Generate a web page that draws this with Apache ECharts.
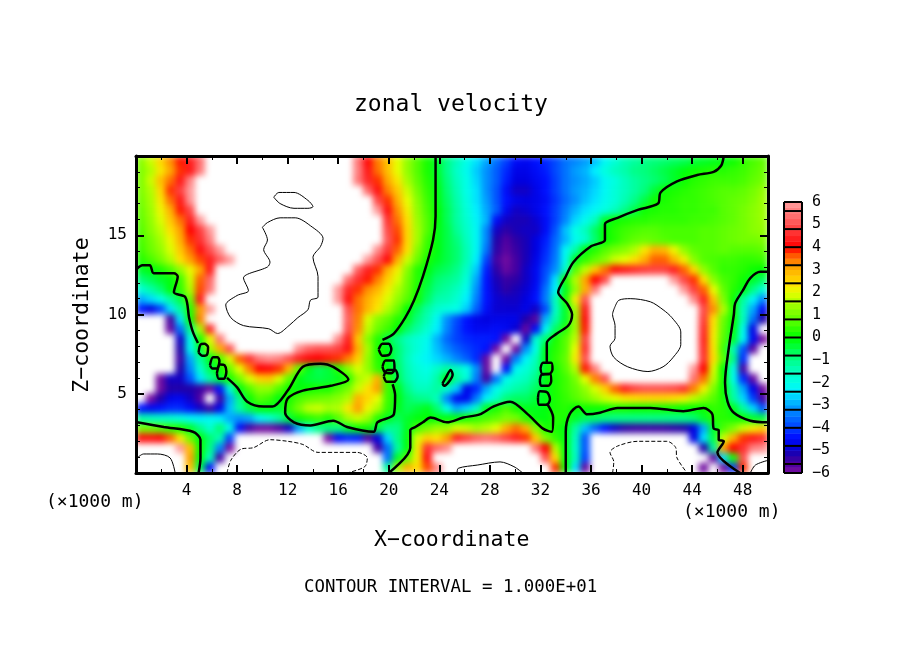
<!DOCTYPE html>
<html>
<head>
<meta charset="utf-8">
<title>zonal velocity</title>
<style>
  html, body { margin: 0; background: #fff; }
  #main { width: 904px; height: 654px; }
</style>
<script src="https://cdn.jsdelivr.net/npm/echarts@6/dist/echarts.min.js"></script>
</head>
<body>
<div id="main"></div>
<script>
// values, top row first, 64 columns x 32 rows; +-7 = off the colour scale (white)
var zonalRows = [
[1.2,1.8,2.5,3.3,3.9,4.4,5.4,7, 7,7,7,7,7,7,7,7, 7,7,7,7,7,7,5.5,4.1, 3.4,2.8,2,1.3,.7,.2,-.3,-1, -1.5,-2,-2.5,-3,-3.5,-4,-4.5,-4.6, -4.4,-4.2,-3.9,-3.5,-3.3,-3.1,-2.8,-2.2, -1.8,-1.4,-1.2,-1,-.9,-.8,-.7,-.6, -.4,-.3,-.2,-.1,.1,.4,.6,.8],
[1.1,1.6,2.3,3.1,3.8,4.3,5.5,7, 7,7,7,7,7,7,7,7, 7,7,7,7,7,7,5.6,4.3, 3.5,2.8,2,1.3,.7,.2,-.3,-1, -1.6,-2.1,-2.7,-3.2,-3.7,-4.2,-4.7,-4.7, -4.5,-4.3,-3.9,-3.5,-3.1,-2.9,-2.4,-1.9, -1.5,-1.3,-1,-.9,-.7,-.5,-.3,-.1, .1,.2,.3,.3,.4,.5,.7,.9],
[1.1,1.8,2.8,3.5,4.3,5.7,7,7, 7,7,7,7,7,7,7,7, 7,7,7,7,7,7,5.5,4.5, 3.8,3.1,2.3,1.5,.8,.3,-.2,-.9, -1.5,-2,-2.6,-3.2,-3.7,-4.3,-4.8,-4.8, -4.6,-4.4,-4,-3.5,-3.2,-3,-2.7,-2.2, -1.9,-1.5,-1.2,-1,-.8,-.6,-.3,.1, .3,.4,.5,.5,.5,.6,.8,1],
[1.1,1.6,2.5,3.8,4.8,6,7,7, 7,7,7,7,7,7,7,7, 7,7,7,7,7,7,7,5.3, 4.2,3.4,2.7,1.8,1,.4,-.1,-.8, -1.4,-2,-2.5,-3.2,-3.8,-4.5,-5,-5, -4.7,-4.4,-4,-3.5,-3.1,-2.9,-2.6,-2.2, -1.8,-1.5,-1.2,-.9,-.4,.1,.2,.3, .4,.5,.6,.7,.7,.8,1,1.3],
[1,1.5,2.3,3.5,4.3,5.9,7,7, 7,7,7,7,7,7,7,7, 7,7,7,7,7,7,7,7, 4.9,3.8,3,2,1.2,.5,-.1,-.7, -1.3,-1.9,-2.5,-3.1,-3.8,-4.4,-4.7,-4.8, -4.7,-4.5,-4.1,-3.6,-3.2,-2.8,-2.5,-2.1, -1.8,-1.4,-1,-.5,.1,.2,.3,.4, .4,.5,.6,.7,.8,.9,1.1,1.4],
[.9,1.4,2.1,3,3.9,4.9,7,7, 7,7,7,7,7,7,7,7, 7,7,7,7,7,7,7,7, 6,4.2,3.3,2.2,1.3,.6,0,-.6, -1.2,-1.8,-2.4,-3,-3.7,-4.6,-5,-4.9, -4.7,-4.4,-4,-3.4,-2.9,-2.5,-2.2,-1.9, -1.5,-1,-.5,.1,.2,.3,.3,.4, .4,.5,.5,.7,.8,1,1.2,1.4],
[.8,1.3,1.9,2.7,3.5,4.4,6,7, 7,7,7,7,7,7,7,7, 7,7,7,7,7,7,7,7, 7,4.6,3.5,2.4,1.4,.7,0,-.6, -1.2,-1.7,-2.3,-2.9,-4.5,-5,-5.1,-5.1, -4.9,-4.5,-4,-3.3,-2.6,-2.1,-1.5,-.3, .1,.2,.3,.3,.4,.4,.4,.4, .5,.5,.6,.7,.8,1,1.2,1.4],
[.7,1.2,1.7,2.4,3.2,4,4.8,6, 7,7,7,7,7,7,7,7, 7,7,7,7,7,7,7,7, 7,4.9,3.7,2.5,1.5,.7,-.1,-.5, -1.1,-1.6,-2.2,-3.3,-5,-5.3,-5.1,-5, -5,-4.5,-3.8,-2.8,-2,-1.5,-.7,0, .3,.5,.6,.7,.7,.6,.6,.6, .6,.7,.7,.8,.9,1,1.2,1.3],
[.6,1,1.5,2.1,3,3.8,4.6,5.6, 7,7,7,7,7,7,7,7, 7,7,7,7,7,7,7,7, 7,5.1,3.8,2.5,1.5,.5,-.1,-.5, -.9,-1.5,-2.2,-3.3,-5.2,-5.6,-5.3,-5.1, -4.8,-4.3,-3.6,-2.9,-2.1,-1.7,-.8,0, .3,.6,.8,.9,.8,.7,.6,.6, .6,.7,.7,.8,.9,1,1,1.1],
[.5,.9,1.3,1.9,2.7,3.5,4.2,5, 6,7,7,7,7,7,7,7, 7,7,7,7,7,7,7,7, 5.8,4.7,3.6,2.4,1.2,.4,-.1,-.5, -.8,-1.4,-2.2,-3.5,-5.3,-5.7,-5.4,-5.1, -4.8,-4.2,-3.5,-2.2,-1.3,-.1,.3,.7, 1,1.2,1.6,2.3,3,2.9,2.1,1.3, .8,.7,.7,.8,.7,.7,.7,.8],
[.3,.6,1,1.6,2.4,3.2,3.7,4.4, 5.2,6,7,7,7,7,7,7, 7,7,7,7,7,7,7,6, 5,4.1,3,1.8,.9,.2,-.2,-.5, -.8,-1.4,-2.4,-4,-5.5,-5.9,-5.5,-5.1, -4.7,-4.1,-3.4,-2.1,-.2,.4,.8,1.2, 1.8,2,2.4,3,3.6,3.6,3,2.2, 1.2,.7,.6,.5,.5,.4,.4,.5],
[-.3,-.1,.2,.6,1.3,2.1,3.1,4.3, 7,7,7,7,7,7,7,7, 7,7,7,7,7,7,5.2,4.4, 3.8,3,2.2,1.2,.3,-.1,-.5,-.7, -1,-1.6,-2.7,-4.3,-5.3,-5.8,-5.5,-5, -4.6,-3.9,-3.2,-1.6,.7,1.7,2.7,3.5, 4.1,4.3,4.5,4.7,4.8,4.8,4.4,3.6, 2.5,1.3,.7,.4,.4,.3,.1,0],
[-.9,-.6,-.3,-.1,.5,1.8,3.6,5.3, 7,7,7,7,7,7,7,7, 7,7,7,7,7,5.4,4.6,3.9, 3.4,2.6,1.9,1,.3,-.3,-.8,-1, -1.2,-1.8,-3,-4.4,-5.1,-5.4,-5.3,-5, -4.6,-3.8,-2.5,.2,1.6,3.1,4,4.9, 7,7,7,7,7,7,6,4.9, 3.8,2.4,1.2,.6,.4,.1,-.3,-.7],
[-1.8,-1.3,-.8,-.1,.4,1.6,3.7,5.5, 7,7,7,7,7,7,7,7, 7,7,7,7,6,4.5,3.8,3.3, 2.9,2.2,1.6,.9,.2,-.5,-1,-1.2, -1.5,-2.1,-3.2,-4.4,-5,-5.3,-5.1,-4.9, -4.5,-3.5,-2.3,-.2,1.3,3,5.5,7, 7,7,7,7,7,7,7,6, 4.8,3.6,2,.8,.3,-.1,-1,-1.8],
[-3,-2.6,-2,-1.2,-.5,.9,4.3,7, 7,7,7,7,7,7,7,7, 7,7,7,7,6,4.2,3.5,3, 2.5,1.9,1.3,.7,.1,-.7,-1.3,-1.4, -1.7,-2.4,-3.4,-4.4,-4.9,-5,-5,-4.8, -4.4,-3.4,-1.5,.2,2.2,5,7,7, 7,7,7,7,7,7,7,7, 5.8,4.4,2.8,1.1,.1,-1.2,-2.3,-3.3],
[-4.3,-4.8,-4,-2.5,-1.2,.3,3.2,6, 7,7,7,7,7,7,7,7, 7,7,7,7,7,5,3.5,2.9, 2.3,1.6,.9,0,-.6,-1.2,-1.7,-1.9, -2,-2.7,-3.7,-4.5,-4.9,-4.9,-4.9,-4.7, -5,-3.9,-1.6,-.3,1.5,4.3,7,7, 7,7,7,7,7,7,7,7, 6.2,4.9,3.3,1.6,.2,-1.5,-3,-4.5],
[-7,-7,-7,-5.5,-2.5,.1,3.4,7, 7,7,7,7,7,7,7,7, 7,7,7,7,7,5.2,3.4,1.9, 1.2,.8,.3,-.2,-.9,-1.4,-2.2,-3.2, -3.9,-4.4,-4.7,-4.8,-4.7,-4.7,-4.7,-5.2, -5.7,-2.9,-1.3,-.3,1.4,4.1,7,7, 7,7,7,7,7,7,7,7, 7,4.7,2.4,.9,.1,-1.5,-3.5,-5.2],
[-7,-7,-7,-5.8,-3.5,-1,1.5,4.5, 7,7,7,7,7,7,7,7, 7,7,7,7,7,5,3.3,1.7, .9,.5,0,-.7,-1.2,-1.7,-2.4,-3.3, -4,-4.4,-4.6,-4.6,-4.5,-4.6,-4.9,-5.8, -4.5,-2.2,-.7,.3,1.4,3.9,7,7, 7,7,7,7,7,7,7,7, 7,4.5,2.3,.8,-.1,-2.1,-4.8,-6.8],
[-7,-7,-7,-7,-5,-2,.2,2, 5.5,7,7,7,7,7,7,7, 7,7,7,7,5.8,4.4,2.7,1.2, .3,-.5,-1,-1.5,-1.8,-2.1,-2.9,-3.6, -4,-4.2,-4.3,-4.3,-4.4,-5.9,-7,-5, -1.8,-.8,.2,.7,1.7,4.8,7,7, 7,7,7,7,7,7,7,7, 7,4.4,2.2,.7,-.3,-2.2,-4.6,-6],
[-7,-7,-7,-7,-5.2,-2.2,-.4,1.4, 3,5,7,7,7,7,7,7, 5.8,5.2,5,5,4.8,4.2,3,1.5, .2,-.1,-.8,-1.4,-1.8,-2.2,-2.8,-3.3, -3.7,-4,-4.2,-4.4,-5.9,-7,-5.9,-3.2, -2,-.2,.3,.7,2,4.6,7,7, 7,7,7,7,7,7,7,7, 7,4.5,2.3,.5,-1.4,-3.8,-5.7,-7],
[-7,-7,-7,-7,-5.4,-3,-1.2,-.2, .6,1.9,3.6,4.6,5.5,5.8,5.6,5, 4.4,4.1,4,3.9,3.8,3.4,2.6,1.3, .3,-.1,-.8,-1.5,-2,-2.3,-2.6,-2.9, -3.3,-3.7,-4.2,-5.8,-7,-5.9,-3.4,-2.3, -1.5,-.2,.4,.8,2.2,5,7,7, 7,7,7,7,7,7,7,7, 7,4.6,2.4,.7,-1,-4.2,-7,-7],
[-7,-7,-7,-7,-5.2,-3.3,-1.7,-.6, .1,.9,2,3.4,4,4.1,3.8,2.9, .8,-.2,-.6,-.4,.3,1.2,1.9,1.3, .4,-.1,-.7,-1.4,-1.8,-2,-1.6,-1.2, -1.5,-2,-3.2,-5.8,-7,-4.5,-2.2,-1.8, -1.3,-.1,.2,.7,1.6,3.9,5.6,7, 7,7,7,7,7,7,7,7, 6,4,1.9,0,-2,-5.5,-7,-7],
[-7,-7,-5.9,-5,-5,-3.8,-2.5,-1.2, -.4,.2,1,1.9,2.6,2.7,1.9,.8, -.1,-.4,-.5,-.4,-.2,.3,1.5,1.8, 3,.4,-.6,-1.3,-1.7,-1.8,-1.3,-.1, -1.2,-1.8,-3.4,-5.5,-3.5,-2.1,-1.7,-1.5, -1,-.1,.2,.5,1,2,3.4,5, 7,7,7,7,7,7,7,7, 5.4,3.5,1.7,.1,-2,-4.2,-5.8,-7],
[-7,-7,-5.9,-5.2,-5.2,-5.2,-5.4,-5.8, -4.4,-1.8,-.1,.7,1.3,1.3,.7,.1, -.1,.1,.2,.2,.6,1,1.8,2.4, 3.2,.5,-.2,-1,-1.5,-1.5,-1.2,-1.6, -2.7,-4.7,-4.2,-3,-2.1,-1.6,-1.3,-1.1, -.7,-.2,.2,.5,.8,1.3,1.9,2.6, 3.6,4.4,4.8,5,5,5,4.9,4.6, 3.4,2.2,1.1,.1,-1.4,-3,-4.7,-6],
[-7,-6,-5.2,-4.7,-4.6,-5,-5.6,-7, -5.4,-3,-1,.1,.7,.5,-.1,.2, .6,.8,.9,1,1.2,1.6,3,2.5, 2,.5,-.1,-.7,-1,-1.1,-1.5,-3.3, -4.6,-4.6,-3.4,-2.3,-1.6,-.9,-.7,-.7, -.4,-.2,.2,.4,.7,1,1.4,1.8, 2,2.3,2.4,2.5,2.5,2.5,2.4,2.2, 1.7,1.2,.7,.2,-1.2,-2.6,-4,-5.5],
[-4.4,-4.6,-4.4,-4.2,-4.2,-4.5,-5,-5.4, -4.7,-2.8,-1.2,-.5,-.1,-.1,-.3,.4, 1,1.7,1.8,1.5,1.6,2.3,3.2,2.1, 1.6,.4,-.2,-.6,-.4,-.2,-.8,-2, -3,-2.6,-1.6,-.2,.2,.6,.2,-.2, -.2,-.1,.2,.3,0,.1,.1,.1, .2,.2,.1,.1,.1,.1,.1,0, 0,.1,.4,.3,-.2,-1.2,-2.6,-3.8],
[-1.3,-1.5,-1.6,-1.7,-1.9,-2.2,-2.4,-2.2, -2.4,-3,-3.2,-3,-2.3,-1.8,-1.2,-.4, .1,.3,.5,.2,.7,1.5,1.8,1.4, .3,-.2,-.6,-.3,-.1,0,-.1,-.1, -.1,.2,.4,.6,.8,1.1,1,.4, -.1,-.1,.3,.2,-.3,-.6,-.7,-.9, -1,-1,-1,-1,-1,-1,-1,-1, -.8,-.3,.3,.3,.2,.1,-.3,-.5],
[1,.9,.7,.4,.2,-.3,-1,-1.7, -.8,-2,-4.5,-5.5,-5.9,-5.9,-5.6,-5, -3,-1.7,-1,-.9,-.9,-.3,.1,.1, -.5,-1.1,-1,-.2,.6,1,1.4,1.4, 1.9,1.8,1.5,1.7,2,3,3.5,3, 1.2,.2,.2,-.1,-1.2,-2.8,-3.7,-4.4, -5,-5.3,-5.4,-5.4,-5.4,-5.4,-5.3,-5.2, -4.8,-3,-.3,.6,1.1,1.8,2.2,2.6],
[4.2,4.2,4.1,3.6,2.3,.9,-.1,-.8, -1.4,-4,-7,-7,-7,-7,-7,-7, -7,-7,-7,-6,-4.5,-4.2,-4.3,-5.6, -4.8,-2.6,-1,-.1,1.9,2.6,2.4,3.2, 4.4,4.8,5.2,5.4,5.2,4.8,4.4,3.8, 2.7,1.1,.4,-.1,-1.5,-3.8,-7,-7, -7,-7,-7,-7,-7,-7,-7,-7, -4.8,-2.5,-.5,1.8,3,3.8,4.3,4.6],
[7,7,7,7,6,2.8,.1,-1, -3.3,-6,-7,-7,-7,-7,-7,-7, -7,-7,-7,-7,-7,-7,-7,-7, -5.5,-3.5,-1.2,-.1,2.2,4.6,5.3,5.8, 7,7,7,7,7,7,7,7, 5.5,4,1.6,-.1,-1.6,-3.8,-7,-7, -7,-7,-7,-7,-7,-7,-7,-7, -7,-5.2,-1.2,3.2,4,4.6,5.6,5.8],
[7,7,7,7,7,3.2,-.1,-1.5, -5.5,-7,-7,-7,-7,-7,-7,-7, -7,-7,-7,-7,-7,-7,-7,-7, -7,-3.5,-.3,.8,2.2,4.2,7,7, 7,7,7,7,7,7,7,7, 7,5,2.5,-.1,-1.5,-4,-7,-7, -7,-7,-7,-7,-7,-7,-7,-7, -7,-7,-5.8,-2.5,.2,5,7,7],
[7,7,7,7,7,2.8,-.6,-4.5, -7,-7,-7,-7,-7,-7,-7,-7, -7,-7,-7,-7,-7,-7,-7,-7, -6.5,-1.2,1.5,3,2.4,3.7,5.7,7, 7,7,7,7,7,7,7,7, 7,7,3.8,.1,-2.5,-5.8,-7,-7, -7,-7,-7,-7,-7,-7,-7,-7, -7,-5.9,-7,-6,-4,3.8,7,7]
];

// colour scale, -6.4 to 6.4 in steps of 0.4
var scaleColors = ['#7a10a0','#7a10a0','#5000a0','#2000a8','#0000e0','#0010ff','#0040ff','#0068ff','#0090ff','#00c0ff','#00f0ff','#00ffe8','#00ffc8','#00ffa0','#00ff70','#00ff38','#00ff00','#30ff00','#60ff00','#88ff00','#b0ff00','#e8ff00','#ffe000','#ffc000','#ffa000','#ff6000','#ff0000','#ff2020','#ff4040','#ff6060','#ff8080','#ff9c9c','#ff9c9c'];
var barLevels = [-5.88,-5.63,-5.38,-5.13,-4.88,-4.63,-4.38,-4.13,-3.88,-3.63,-3.38,-3.13,-2.88,-2.63,-2.38,-2.13,-1.88,-1.63,-1.38,-1.13,-.88,-.63,-.38,-.13,.13,.38,.63,.88,1.13,1.38,1.63,1.88,2.13,2.38,2.63,2.88,3.13,3.38,3.63,3.88,4.13,4.38,4.63,4.88,5.13,5.38,5.63,5.88];
var barEdges = [-6,-5.6,-4.8,-4,-3.2,-2.4,-1.6,-.8,0,.8,1.6,2.4,3.2,4,4.8,5.6,6];

var xTickLabels = [4,8,12,16,20,24,28,32,36,40,44,48];
var zTickLabels = [5,10,15];

// thick contour lines, [x, z] in axis units
var zeroA = [[.1,12.9],[.5,13.1],[1.1,13.1],[1.4,12.6],[3,12.6],[3.3,12.4],[3,11.4],[3.9,11.1],[4.2,9.8],[4.5,8.9],[4.9,8.2]];
var zeroB = [[7.2,6],[8,5.4],[8.8,4.5],[10.1,4.2],[10.8,4.2],[12,5.2],[13.2,6.7],[14.6,6.9],[15.6,6.7],[16.8,5.9],[15.4,5.5],[13.2,5.2],[12,4.7],[11.8,3.8],[12.5,3.2],[13.8,3],[15.6,3.3],[16.7,2.9],[18.8,2.6],[19.1,3.2],[20.4,3.7],[20.5,4.9],[20.3,5.6]];
var zeroC = [[19.5,8.4],[20.4,8.8],[21.3,9.8],[22,10.9],[22.7,12.4],[23.5,14.7],[23.7,16.2],[23.7,19.1],[23.7,20]];
var zeroD = [[.1,3.2],[2.2,2.9],[4.5,2.6],[5.1,2.1],[5.1,.95],[4.95,0]];
var zeroE = [[20,0],[21.7,1.6],[21.7,2.7],[22.1,2.9],[22.7,3.2],[23.3,3.5],[24.6,3.2],[25.9,3.5],[27.2,3.7],[28.3,4.2],[29.6,4.5],[31,3.7],[32.2,2.8],[32.9,2.6],[33,3.5],[32.5,4.4]];
var zeroF = [[32.5,7],[32.5,8.2],[33.3,8.8],[34.2,9.3],[34.5,10],[34.1,10.7],[33.4,11.4],[34,12.4],[34.6,13.3],[36,14.3],[37.1,14.7],[37.1,15.7],[38.1,16.1],[39.7,16.6],[41.3,17],[41.5,17.7],[42.8,18.4],[44.4,18.8],[45.7,19],[46.3,19.4],[46.5,20]];
var zeroG = [[34,0],[34,2.6],[34.3,3.7],[35,4.2],[35.7,3.7],[36.7,3.8],[38.1,4.1],[40.7,4.1],[43.3,3.9],[44.9,4.1],[45.6,3.7],[45.7,2.8],[46.1,2.7],[46.1,2.1],[46.5,2],[46,1.3],[47.8,0]];
var zeroH = [[50,3.2],[48.6,3.3],[47.3,3.8],[46.8,4.5],[46.6,5.7],[46.9,7.9],[47.3,10],[47.4,10.7],[48,11.5],[48.6,12.3],[49.4,12.7],[50,12.7]];
var loop1 = [[4.95,7.6],[5.1,8.1],[5.4,8.15],[5.7,7.95],[5.6,7.45],[5.25,7.4],[4.95,7.6]];
var loop2 = [[5.85,6.8],[6.1,7.3],[6.45,7.3],[6.6,7.05],[6.4,6.6],[6.05,6.6],[5.85,6.8]];
var loop3 = [[6.4,6.3],[6.65,6.85],[7,6.8],[7.15,6.4],[6.95,5.95],[6.55,5.95],[6.4,6.3]];
var loop4 = [[19.2,7.8],[19.5,8.15],[20,8.15],[20.2,7.8],[20,7.45],[19.5,7.4],[19.2,7.8]];
var loop5 = [[19.5,6.7],[19.75,7.1],[20.4,7.1],[20.45,6.55],[20.2,6.3],[19.7,6.35],[19.5,6.7]];
var loop6 = [[19.6,6.1],[19.9,6.5],[20.5,6.5],[20.7,6.1],[20.4,5.75],[19.85,5.75],[19.6,6.1]];
var loop7 = [[24.25,5.65],[24.5,6],[24.9,6.5],[25.05,6.2],[24.7,5.7],[24.35,5.5],[24.25,5.65]];
var loop8 = [[32,6.6],[32.2,6.95],[32.85,6.95],[32.95,6.55],[32.7,6.25],[32.15,6.25],[32,6.6]];
var loop9 = [[31.95,5.85],[32.1,6.2],[32.75,6.25],[32.85,5.8],[32.6,5.5],[32.05,5.5],[31.95,5.85]];
var loop10 = [[31.8,4.75],[31.95,5.15],[32.5,5.1],[32.75,4.65],[32.5,4.3],[31.9,4.3],[31.8,4.75]];
// thin contour lines
var thinA = [[10.9,17.4],[11.3,17.7],[12.5,17.7],[13.6,17.2],[14,16.8],[13.6,16.7],[12.5,16.7],[11.4,17],[10.9,17.4]];
var thinB = [[10,15.5],[10.4,15.8],[11.4,16.1],[12.6,16.1],[13.8,15.6],[14.8,14.8],[14.6,14.3],[14,13.6],[14.4,12.4],[14.4,11.1],[13.8,10.9],[13.6,10.3],[12.8,9.8],[12.1,9.3],[11.2,8.8],[10.5,9.1],[8.5,9.3],[7.5,9.8],[7.1,10.6],[8,11.2],[8.9,11.5],[8.5,12.3],[10.4,13],[10.6,13.3],[10.1,14.1],[10.4,14.7],[10,15.5]];
var thinC = [[37.9,10.5],[38.2,10.9],[39.1,11],[40.7,10.8],[41.7,10.3],[42.4,9.8],[43.1,8.9],[43.1,8.1],[42.5,7.3],[41.7,6.7],[40.5,6.4],[38.9,6.7],[37.8,7.3],[37.5,8],[37.9,8.5],[37.9,9.3],[37.7,10],[37.9,10.5]];
var thinD = [[.1,.95],[.6,1.2],[1.7,1.2],[2.7,.95],[3.1,0]];
var thinE = [[25.4,0],[25.5,.3],[27,.5],[28.8,.7],[29.9,.4],[30.6,0]];
var thinF = [[48.6,0],[49,.5],[50,.8]];
// dashed contour lines
var dashA = [[7.2,0],[7.5,.8],[8.3,1.5],[9.3,1.6],[10.6,2.1],[12,2],[13.2,1.8],[14.4,1.3],[15.9,1.3],[17.5,1.3],[18.3,.95],[18.1,.4],[16.7,0]];
var dashB = [[37.7,0],[37.8,.7],[37.5,1.3],[38.1,1.7],[39.7,2],[42,2],[42.7,1.6],[42.8,.95],[43.6,0]];

var thickLines = [zeroA,zeroB,zeroC,zeroD,zeroE,zeroF,zeroG,zeroH,loop1,loop2,loop3,loop4,loop5,loop6,loop7,loop8,loop9,loop10];
var thinLines = [thinA,thinB,thinC,thinD,thinE,thinF];
var dashLines = [dashA,dashB];

var mono = '"DejaVu Sans Mono", monospace';
var black = '#000';

function minus(v){
    return String(v).replace('-', '\u2212');
}

var cellData = [];
for (var r=0;r<zonalRows.length;r++){
    for (var c=0;c<zonalRows[r].length;c++){
        cellData.push([c, r, zonalRows[r][c]]);
    }
}
var barData = [];
for (var b=0;b<barLevels.length;b++){
    barData.push([0, b, barLevels[b]]);
}
var colIndex = zonalRows[0].map(function(v,i){ return i; });
var rowIndex = zonalRows.map(function(v,i){ return i; });
var barIndex = barLevels.map(function(v,i){ return i; });

function frameAxis(extra){
    var a = {
        type:'value', z:10, zlevel:2, min:0,
        axisLine:{show:true, onZero:false, lineStyle:{color:black, width:3}},
        axisTick:{show:true, inside:true, length:8, lineStyle:{color:black, width:2}},
        minorTick:{show:true, length:4, lineStyle:{color:black, width:1}},
        splitLine:{show:false},
        axisLabel:{show:false}
    };
    for (var k in extra){ a[k]=extra[k]; }
    return a;
}
var xLabel = {show:true, margin:10, color:black, fontFamily:mono, fontSize:16,
    formatter:function(v){ return xTickLabels.indexOf(v)>=0 ? String(v) : ''; }};
var zLabel = {show:true, margin:9, color:black, fontFamily:mono, fontSize:16,
    formatter:function(v){ return zTickLabels.indexOf(v)>=0 ? String(v) : ''; }};

var series = [
    {type:'heatmap', xAxisIndex:0, yAxisIndex:0, data:cellData, progressive:0, z:2, zlevel:1},
    {type:'heatmap', xAxisIndex:3, yAxisIndex:3, data:barData, progressive:0, z:2}
];
function addLines(list, width, dash){
    list.forEach(function(pts){
        series.push({type:'line', xAxisIndex:1, yAxisIndex:1, data:pts, showSymbol:false, symbol:'none', silent:true, z:5, zlevel:2,
            smooth:0.3, lineStyle:{color:black, width:width, type:dash}});
    });
}
addLines(thickLines, 2.5, 'solid');
addLines(thinLines, 1, 'solid');
addLines(dashLines, 1, 'dashed');
// colour bar box lines
barEdges.forEach(function(e){
    series.push({type:'line', xAxisIndex:4, yAxisIndex:4, data:[[0,e],[1,e]], symbol:'none', silent:true, clip:false, z:5,
        lineStyle:{color:black, width:2}});
});
[0,1].forEach(function(side){
    series.push({type:'line', xAxisIndex:4, yAxisIndex:4, data:[[side,-6],[side,6]], symbol:'none', silent:true, clip:false, z:5,
        lineStyle:{color:black, width:2}});
});

var myChart = echarts.init(document.getElementById('main'), null, {renderer:'canvas'});
myChart.setOption({
    animation:false,
    backgroundColor:'#fff',
    grid:[
        {left:136, top:156, width:632, height:317},
        {left:784, top:202, width:18, height:271}
    ],
    visualMap:{
        type:'continuous', show:false, seriesIndex:[0,1], dimension:2, min:-6.4, max:6.4, range:[-6,6],
        inRange:{color:scaleColors}, outOfRange:{color:'#fff'}
    },
    xAxis:[
        {type:'category', gridIndex:0, show:false, data:colIndex},
        frameAxis({gridIndex:0, position:'bottom', max:50, interval:4, minorTick:{show:true, splitNumber:2, length:4, lineStyle:{color:black, width:1}}, axisLabel:xLabel}),
        frameAxis({gridIndex:0, position:'top', max:50, interval:4, minorTick:{show:true, splitNumber:2, length:4, lineStyle:{color:black, width:1}}}),
        {type:'category', gridIndex:1, show:false, data:['bar']},
        {type:'value', gridIndex:1, show:false, min:0, max:1}
    ],
    yAxis:[
        {type:'category', gridIndex:0, show:false, inverse:true, data:rowIndex},
        frameAxis({gridIndex:0, position:'left', max:20, interval:5, minorTick:{show:true, splitNumber:5, length:4, lineStyle:{color:black, width:1}}, axisLabel:zLabel}),
        frameAxis({gridIndex:0, position:'right', max:20, interval:5, minorTick:{show:true, splitNumber:5, length:4, lineStyle:{color:black, width:1}}}),
        {type:'category', gridIndex:1, show:false, data:barIndex},
        {type:'value', gridIndex:1, position:'right', min:-6, max:6, interval:1,
            axisLine:{show:false}, axisTick:{show:false}, splitLine:{show:false},
            axisLabel:{margin:10, align:'left', color:black, fontFamily:mono, fontSize:15, formatter:minus}}
    ],
    series:series,
    graphic:[
        {type:'text', left:354, top:94, style:{text:'zonal velocity', font:'23px '+mono, fill:black}},
        {type:'text', left:374, top:529, style:{text:'X\u2212coordinate', font:'21.5px '+mono, fill:black}},
        {type:'text', x:82, y:315, rotation:Math.PI/2, style:{text:'Z\u2212coordinate', font:'21.5px '+mono, fill:black, align:'center', verticalAlign:'middle'}},
        {type:'text', left:46, top:493, style:{text:'(\u00d71000 m)', font:'18px '+mono, fill:black}},
        {type:'text', left:683, top:503, style:{text:'(\u00d71000 m)', font:'18px '+mono, fill:black}},
        {type:'text', left:304, top:579, style:{text:'CONTOUR INTERVAL = 1.000E+01', font:'17.4px '+mono, fill:black}}
    ]
});

// the field has its own canvas layer: soften the cell edges, keep it inside the plot frame
var fieldLayer = document.querySelector('canvas[data-zr-dom-id="zr_1"]');
if (fieldLayer){
    fieldLayer.style.filter = 'blur(3px)';
    fieldLayer.style.clipPath = 'inset(156px 136px 181px 136px)';
}
</script>
</body>
</html>
